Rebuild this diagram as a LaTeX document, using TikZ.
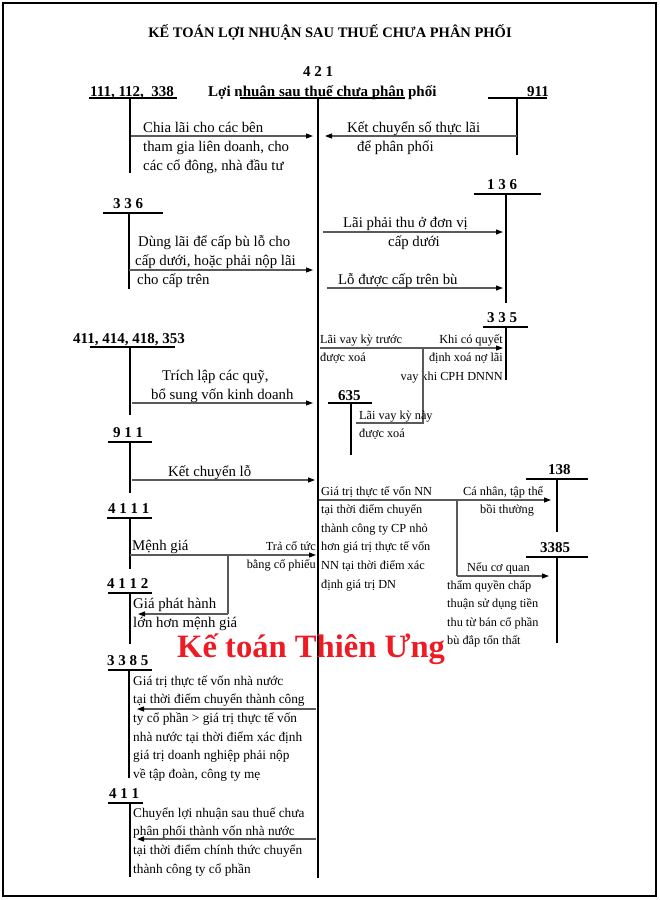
\documentclass[tikz,border=0pt]{standalone}
\usepackage{fontspec}
\setmainfont{Liberation Serif}
\usetikzlibrary{arrows.meta}
\definecolor{wmred}{HTML}{ED1C24}
\definecolor{arrgray}{HTML}{5A5A5A}
\begin{document}
\begin{tikzpicture}[x=1pt,y=-1pt,
  lbl/.style={font=\bfseries\fontsize{15}{18}\selectfont, inner sep=0pt, anchor=base west},
  txt/.style={font=\fontsize{14.8}{19}\selectfont, inner sep=0pt, anchor=base west, align=left},
  sm/.style={font=\fontsize{12.3}{18.6}\selectfont, inner sep=0pt, anchor=base west, align=left},
  smb/.style={font=\fontsize{13.3}{18.7}\selectfont, inner sep=0pt, anchor=base west, align=left},
  tbar/.style={line width=2pt},
  tstem/.style={line width=1.3pt},
  arr/.style={line width=1.1pt, draw=arrgray, -{Triangle[length=7pt,width=5pt,color=black]}},
  ln/.style={line width=1.1pt, draw=arrgray},
]
\useasboundingbox (0,0) rectangle (660,900);
\draw[line width=2pt] (3,3) rectangle (656,896);

% title
\node[font=\bfseries\fontsize{14.5}{17}\selectfont, inner sep=0pt, anchor=base] (title) at (330,37) {KẾ TOÁN LỢI NHUẬN SAU THUẾ CHƯA PHÂN PHỐI};

% account 421
\node[lbl, anchor=base] (n421) at (318,76) {4 2 1};
\node[lbl] (n421t) at (208,96) {Lợi nhuận sau thuế chưa phân phối};
\draw[tbar] (240,98) -- (405,98);
\coordinate (m0) at (318,98);
\coordinate (m1) at (318,878);
\draw[line width=2.7pt] (m0) -- (m1);

% 111,112,338
\node[lbl] (n111) at (90,96) {111, 112,~~338};
\draw[tbar] (89,98) -- (177,98);
\draw[tstem] (130,98) -- (130,173);
\coordinate (a1s) at (131,136); \coordinate (a1e) at (313,136);
\draw[arr] (a1s) -- (a1e);
% multi-line nodes: base anchor = baseline of last line
\node[txt] (t1) at (143,170) {Chia lãi cho các bên\\tham gia liên doanh, cho\\các cổ đông, nhà đầu tư};

% 911 (top)
\node[lbl] (n911a) at (527,96) {911};
\draw[tbar] (488,98) -- (547,98);
\draw[tstem] (517,98) -- (517,155);
\coordinate (a2s) at (517,136); \coordinate (a2e) at (325,136);
\draw[arr] (a2s) -- (a2e);
\node[txt] (t2a) at (347,132) {Kết chuyển số thực lãi};
\node[txt] (t2b) at (357,151) {để phân phối};

% 136
\node[lbl] (n136) at (487,189) {1 3 6};
\draw[tbar] (474,194) -- (541,194);
\draw[line width=2pt] (506,194) -- (506,303);
\coordinate (a3s) at (323,232); \coordinate (a3e) at (503,232);
\draw[arr] (a3s) -- (a3e);
\node[txt] (t3a) at (343,227) {Lãi phải thu ở đơn vị};
\node[txt] (t3b) at (388,246) {cấp dưới};
\coordinate (a4s) at (327,288); \coordinate (a4e) at (503,288);
\draw[arr] (a4s) -- (a4e);
\node[txt] (t4) at (338,284) {Lỗ được cấp trên bù};

% 336
\node[lbl] (n336) at (113,208) {3 3 6};
\draw[tbar] (103,213) -- (163,213);
\draw[tstem] (129,213) -- (129,289);
\coordinate (a5s) at (129,270); \coordinate (a5e) at (313,270);
\draw[arr] (a5s) -- (a5e);
\node[txt] (t5a) at (138,246) {Dùng lãi để cấp bù lỗ cho};
\node[txt] (t5b) at (135,265) {cấp dưới, hoặc phải nộp lãi};
\node[txt] (t5c) at (137,284) {cho cấp trên};

% 335
\node[lbl] (n335) at (487,322) {3 3 5};
\draw[tbar] (483,327) -- (528,327);
\draw[tstem] (506,327) -- (506,380);
\coordinate (a6s) at (320,348); \coordinate (a6e) at (503,348);
\draw[arr] (a6s) -- (a6e);
\node[sm] (t6a) at (320,361.6) {Lãi vay kỳ trước\\được xoá};
\node[sm, anchor=base east, align=right] (t6b) at (503,380.2) {Khi có quyết\\định xoá nợ lãi\\vay khi CPH DNNN};
\coordinate (b6a) at (423,348); \coordinate (b6b) at (423,423); \coordinate (b6c) at (356,423);
\draw[ln] (b6a) -- (b6b) -- (b6c);

% 635
\node[lbl] (n635) at (338,400) {635};
\draw[tbar] (328,403) -- (372,403);
\draw[tstem] (351,403) -- (351,455);
\node[sm] (t7) at (359,437.6) {Lãi vay kỳ này\\được xoá};

% 411,414,418,353
\node[lbl] (n411a) at (73,343) {411, 414, 418, 353};
\draw[tbar] (90,347) -- (175,347);
\draw[tstem] (130,347) -- (130,415);
\node[txt] (t8a) at (162,380) {Trích lập các quỹ,};
\node[txt] (t8b) at (151,399) {bổ sung vốn kinh doanh};
\coordinate (a8s) at (132,403); \coordinate (a8e) at (313,403);
\draw[arr] (a8s) -- (a8e);

% 911 (second)
\node[lbl] (n911b) at (113,437) {9 1 1};
\draw[tbar] (108,442) -- (152,442);
\draw[tstem] (130,442) -- (130,493);
\node[txt] (t9) at (168,476) {Kết chuyển lỗ};
\coordinate (a9s) at (132,480); \coordinate (a9e) at (315,480);
\draw[arr] (a9s) -- (a9e);

% 4111
\node[lbl] (n4111) at (108,513) {4 1 1 1};
\draw[tbar] (107,518) -- (152,518);
\draw[tstem] (130,518) -- (130,569);
\node[txt] (t10) at (132,550) {Mệnh giá};
\coordinate (a10s) at (130,555); \coordinate (a10e) at (316,555);
\draw[arr] (a10s) -- (a10e);
\node[sm, anchor=base east, align=right] (t10b) at (316,568.6) {Trả cổ tức\\bằng cổ phiếu};
\coordinate (b10a) at (228,555); \coordinate (b10b) at (228,614); \coordinate (b10c) at (138,614);
\draw[ln] (b10a) -- (b10b);
\draw[arr] (b10b) -- (b10c);

% 4112
\node[lbl] (n4112) at (107,588) {4 1 1 2};
\draw[tbar] (108,593) -- (152,593);
\draw[tstem] (130,593) -- (130,644);
\node[txt] (t11) at (133,627) {Giá phát hành\\lớn hơn mệnh giá};

% 138
\node[lbl] (n138) at (548,474) {138};
\draw[tbar] (526,479) -- (588,479);
\draw[tstem] (557,479) -- (557,532);
\node[sm] (t12) at (321,588) {Giá trị thực tế vốn NN\\tại thời điểm chuyển\\thành công ty CP nhỏ\\hơn giá trị thực tế vốn\\NN tại thời điểm xác\\định giá trị DN};
\coordinate (a12s) at (319,500); \coordinate (a12e) at (551,500);
\draw[arr] (a12s) -- (a12e);
\node[sm] (t12b) at (463,495) {Cá nhân, tập thể};
\node[sm] (t12c) at (480,513) {bồi thường};
\coordinate (b12a) at (457,500); \coordinate (b12b) at (457,576); \coordinate (b12c) at (549,576);
\draw[ln] (b12a) -- (b12b);
\draw[arr] (b12b) -- (b12c);

% 3385 right
\node[lbl] (n3385r) at (540,552) {3385};
\draw[tbar] (526,557) -- (588,557);
\draw[tstem] (557,557) -- (557,643);
\node[sm] (t13a) at (467,571) {Nếu cơ quan};
\node[sm] (t13b) at (447,644.8) {thẩm quyền chấp\\thuận sử dụng tiền\\thu từ bán cổ phần\\bù đắp tổn thất};

% watermark
\node[font=\bfseries\fontsize{32.6}{36}\selectfont, text=wmred, inner sep=0pt, anchor=base west] (wm) at (177,657) {Kế toán Thiên Ưng};

% 3385 left
\node[lbl] (n3385l) at (107,665) {3 3 8 5};
\draw[tbar] (108,670) -- (152,670);
\draw[tstem] (129,670) -- (129,778);
\node[smb] (t14) at (133,778.5) {Giá trị thực tế vốn nhà nước\\tại thời điểm chuyển thành công\\ty cổ phần > giá trị thực tế vốn\\nhà nước tại thời điểm xác định\\giá trị doanh nghiệp phải nộp\\về tập đoàn, công ty mẹ};
\coordinate (a14s) at (316,709); \coordinate (a14e) at (137,709);
\draw[arr] (a14s) -- (a14e);

% 411
\node[lbl] (n411b) at (109,798) {4 1 1};
\draw[tbar] (108,803) -- (143,803);
\draw[tstem] (130,803) -- (130,877);
\node[smb] (t15) at (133,873.1) {Chuyển lợi nhuận sau thuế chưa\\phân phối thành vốn nhà nước\\tại thời điểm chính thức chuyển\\thành công ty cổ phần};
\coordinate (a15s) at (316,839); \coordinate (a15e) at (137,839);
\draw[arr] (a15s) -- (a15e);
\end{tikzpicture}
\end{document}
